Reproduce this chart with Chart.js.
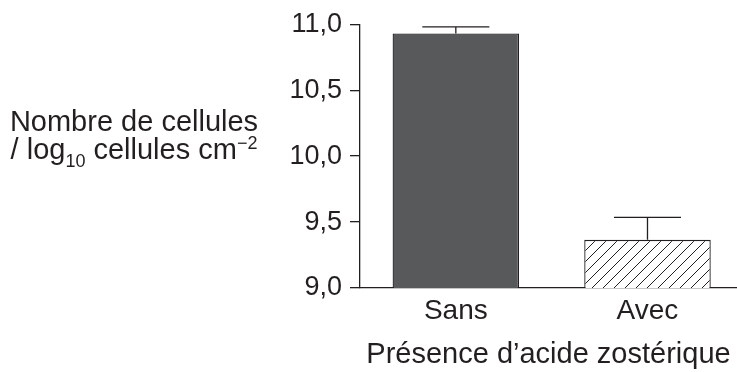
<!DOCTYPE html>
<html lang="fr">
<head>
<meta charset="utf-8">
<title>Nombre de cellules selon la présence d’acide zostérique</title>
<script src="https://cdn.jsdelivr.net/npm/chart.js@4.4.1/dist/chart.umd.min.js"></script>
<style>
  html, body { margin: 0; padding: 0; background: #ffffff; }
  #wrap { width: 737px; height: 372px; position: relative; }
</style>
</head>
<body>
<div id="wrap"><canvas id="chart" width="737" height="372"></canvas></div>
<script>
// Conditions et positions sur l'axe des abscisses
const categories = ['Sans', 'Avec'];
const positions = [1, 2];
// Moyennes (log10 cellules cm-2) et borne haute des barres d'erreur
const means = [10.93, 9.365];
const upperErrors = [10.98, 9.535];
// Graduations de l'axe vertical
const yTicks = [9.0, 9.5, 10.0, 10.5, 11.0];

const INK = '#231f20';
const FONT = '"Liberation Sans", Arial, Helvetica, sans-serif';

// Motif hachuré (traits obliques « / ») pour la condition avec acide
function makeHatch() {
  const s = 11;
  const c = document.createElement('canvas');
  c.width = s; c.height = s;
  const g = c.getContext('2d');
  g.fillStyle = '#ffffff';
  g.fillRect(0, 0, s, s);
  g.strokeStyle = INK;
  g.lineWidth = 1;
  g.beginPath();
  g.moveTo(-1, s + 1); g.lineTo(s + 1, -1);
  g.moveTo(-1, 1); g.lineTo(1, -1);
  g.moveTo(s - 1, s + 1); g.lineTo(s + 1, s - 1);
  g.stroke();
  return g.createPattern(c, 'repeat');
}
const hatchPattern = makeHatch();

// Barres d'erreur (vers le haut uniquement)
const errorBars = {
  id: 'errorBars',
  afterDatasetsDraw(chart) {
    const { ctx, scales: { y } } = chart;
    const meta = chart.getDatasetMeta(0);
    ctx.save();
    ctx.strokeStyle = INK;
    ctx.lineWidth = 1.3;
    meta.data.forEach((bar, i) => {
      const cx = bar.x;
      const yTop = y.getPixelForValue(upperErrors[i]);
      const yMean = y.getPixelForValue(means[i]);
      const half = bar.width * 0.265;
      ctx.beginPath();
      ctx.moveTo(cx, yMean);
      ctx.lineTo(cx, yTop);
      ctx.moveTo(cx - half, yTop);
      ctx.lineTo(cx + half, yTop);
      ctx.stroke();
    });
    ctx.restore();
  }
};

// Titre de l'axe vertical, horizontal, avec indice et exposant
const yTitle = {
  id: 'yTitle',
  afterDraw(chart) {
    const { ctx, chartArea } = chart;
    const big = '29px ' + FONT;
    const small = '18px ' + FONT;
    const cx = 134;
    const mid = (chartArea.top + chartArea.bottom) / 2;
    const base1 = mid - 25;
    const base2 = base1 + 28;
    ctx.save();
    ctx.fillStyle = INK;
    ctx.textBaseline = 'alphabetic';
    ctx.font = big;
    ctx.textAlign = 'center';
    ctx.fillText('Nombre de cellules', cx, base1);

    const parts = [
      { t: '/ log', f: big, dy: 0 },
      { t: '10', f: small, dy: 8 },
      { t: ' cellules cm', f: big, dy: 0 },
      { t: '\u22122', f: small, dy: -10 }
    ];
    ctx.textAlign = 'left';
    let total = 0;
    parts.forEach(p => { ctx.font = p.f; p.w = ctx.measureText(p.t).width; total += p.w; });
    let px = cx - total / 2;
    parts.forEach(p => {
      ctx.font = p.f;
      ctx.fillText(p.t, px, base2 + p.dy);
      px += p.w;
    });
    ctx.restore();
  }
};

new Chart(document.getElementById('chart'), {
  type: 'bar',
  data: {
    datasets: [{
      data: positions.map((p, i) => ({ x: p, y: means[i] })),
      backgroundColor: ['#58595b', hatchPattern],
      borderColor: INK,
      borderWidth: 1.3,
      borderSkipped: 'bottom',
      categoryPercentage: 1,
      barPercentage: 0.66
    }]
  },
  options: {
    responsive: false,
    animation: false,
    layout: { autoPadding: false, padding: { top: 20, right: 0, bottom: 0, left: 0 } },
    plugins: {
      legend: { display: false },
      tooltip: { enabled: false }
    },
    scales: {
      x: {
        type: 'linear',
        offset: false,
        min: 0.5,
        max: 2.467,
        afterBuildTicks: s => { s.ticks = positions.map(v => ({ value: v })); },
        afterFit: s => { s.height = 84; },
        ticks: {
          padding: 6,
          color: INK,
          font: { family: FONT, size: 28 },
          maxRotation: 0,
          callback: v => categories[positions.indexOf(v)]
        },
        grid: { display: false, drawTicks: false, offset: false },
        border: { display: true, color: INK, width: 1.3 },
        title: {
          display: true,
          text: 'Présence d’acide zostérique',
          color: INK,
          font: { family: FONT, size: 29 },
          padding: { top: 0, bottom: 0 }
        }
      },
      y: {
        min: 9,
        max: 11,
        afterBuildTicks: s => { s.ticks = yTicks.map(v => ({ value: v })); },
        afterFit: s => { s.width = 360; },
        ticks: {
          padding: 8,
          color: INK,
          font: { family: FONT, size: 27 },
          callback: v => v.toFixed(1).replace('.', ',')
        },
        grid: { drawOnChartArea: false, drawTicks: true, tickLength: 10, color: INK, lineWidth: 1.3 },
        border: { display: true, color: INK, width: 1.3 }
      }
    }
  },
  plugins: [errorBars, yTitle]
});
</script>
</body>
</html>
